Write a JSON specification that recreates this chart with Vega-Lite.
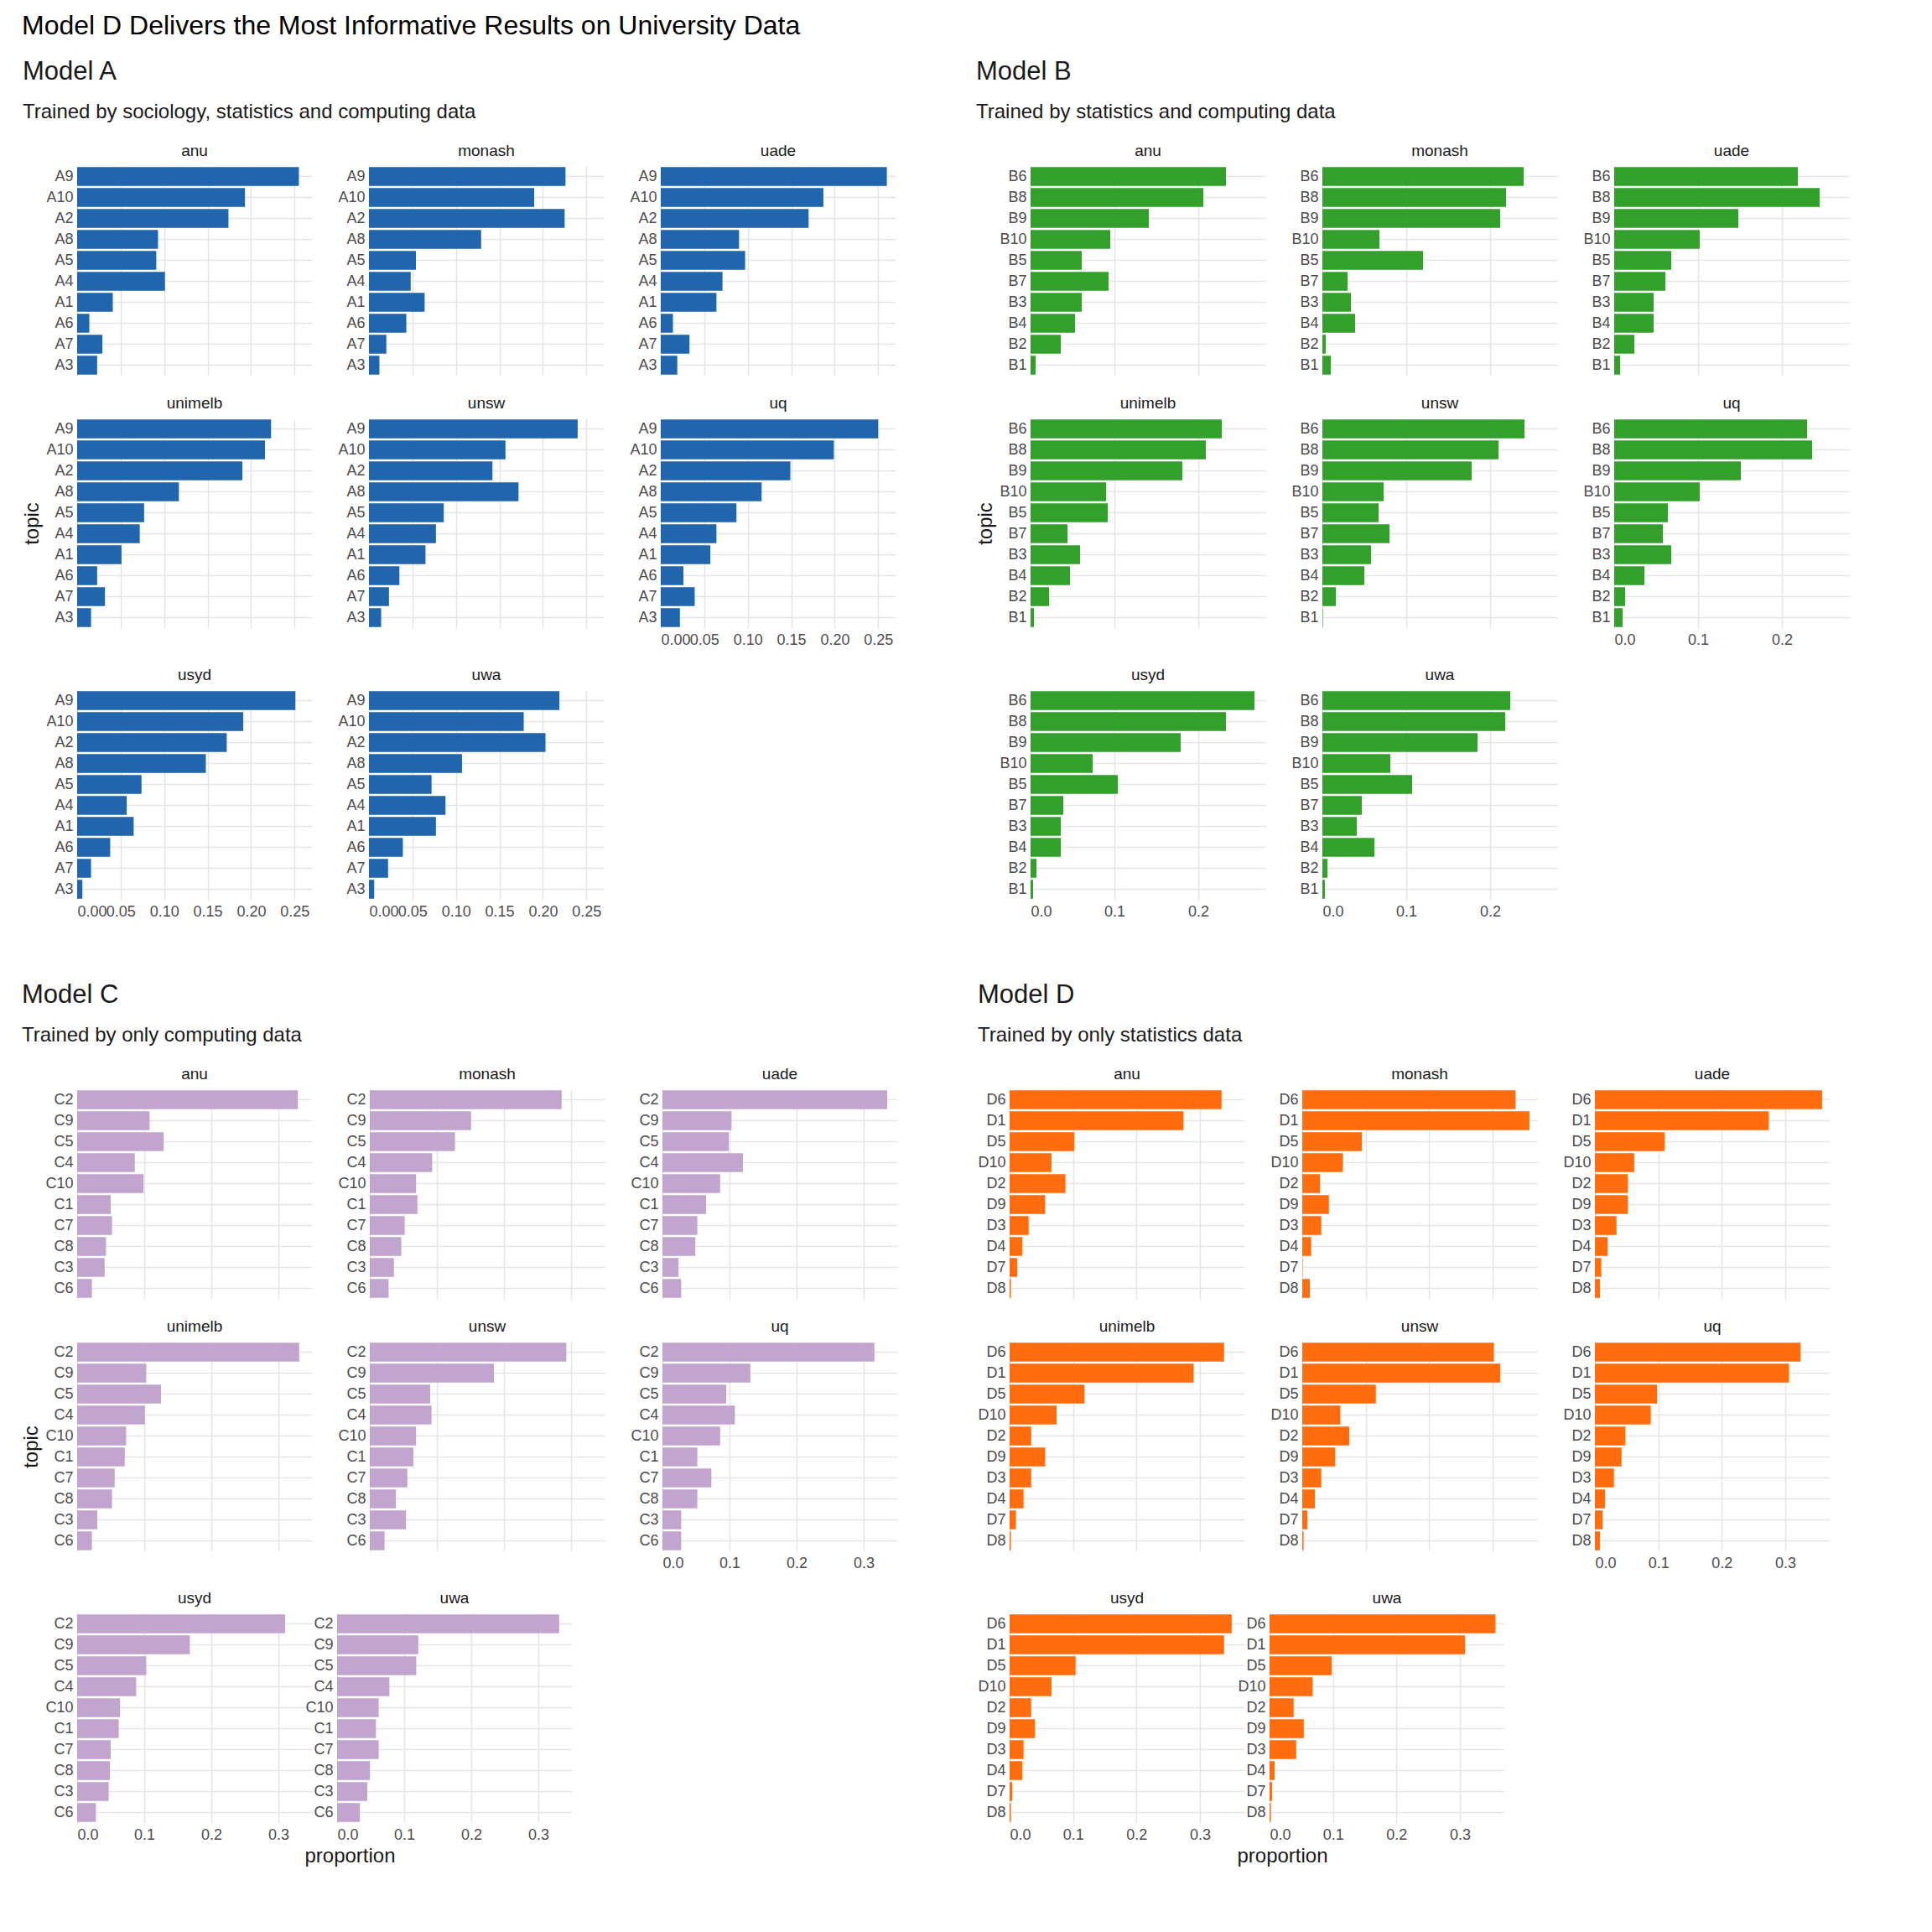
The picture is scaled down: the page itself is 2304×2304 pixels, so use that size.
{
  "$schema": "https://vega.github.io/schema/vega-lite/v6.json",
  "title": {"text": "Model D Delivers the Most Informative Results on University Data", "anchor": "start", "fontSize": 32, "font": "Liberation Sans", "fontWeight": "normal", "offset": 22, "color": "#000000"},
  "background": "white",
  "padding": {"left": 25, "top": 15, "right": 20, "bottom": 10},
  "datasets": {
    "A": [
      {"u":"anu","t":"A9","p":0.255},{"u":"anu","t":"A10","p":0.193},{"u":"anu","t":"A2","p":0.174},{"u":"anu","t":"A8","p":0.093},{"u":"anu","t":"A5","p":0.091},{"u":"anu","t":"A4","p":0.101},{"u":"anu","t":"A1","p":0.041},{"u":"anu","t":"A6","p":0.014},{"u":"anu","t":"A7","p":0.029},{"u":"anu","t":"A3","p":0.023},
      {"u":"monash","t":"A9","p":0.226},{"u":"monash","t":"A10","p":0.19},{"u":"monash","t":"A2","p":0.225},{"u":"monash","t":"A8","p":0.129},{"u":"monash","t":"A5","p":0.054},{"u":"monash","t":"A4","p":0.048},{"u":"monash","t":"A1","p":0.064},{"u":"monash","t":"A6","p":0.043},{"u":"monash","t":"A7","p":0.02},{"u":"monash","t":"A3","p":0.012},
      {"u":"uade","t":"A9","p":0.26},{"u":"uade","t":"A10","p":0.187},{"u":"uade","t":"A2","p":0.17},{"u":"uade","t":"A8","p":0.09},{"u":"uade","t":"A5","p":0.097},{"u":"uade","t":"A4","p":0.071},{"u":"uade","t":"A1","p":0.064},{"u":"uade","t":"A6","p":0.014},{"u":"uade","t":"A7","p":0.033},{"u":"uade","t":"A3","p":0.019},
      {"u":"unimelb","t":"A9","p":0.223},{"u":"unimelb","t":"A10","p":0.216},{"u":"unimelb","t":"A2","p":0.19},{"u":"unimelb","t":"A8","p":0.117},{"u":"unimelb","t":"A5","p":0.077},{"u":"unimelb","t":"A4","p":0.072},{"u":"unimelb","t":"A1","p":0.051},{"u":"unimelb","t":"A6","p":0.023},{"u":"unimelb","t":"A7","p":0.032},{"u":"unimelb","t":"A3","p":0.016},
      {"u":"unsw","t":"A9","p":0.24},{"u":"unsw","t":"A10","p":0.157},{"u":"unsw","t":"A2","p":0.142},{"u":"unsw","t":"A8","p":0.172},{"u":"unsw","t":"A5","p":0.086},{"u":"unsw","t":"A4","p":0.077},{"u":"unsw","t":"A1","p":0.065},{"u":"unsw","t":"A6","p":0.035},{"u":"unsw","t":"A7","p":0.023},{"u":"unsw","t":"A3","p":0.014},
      {"u":"uq","t":"A9","p":0.25},{"u":"uq","t":"A10","p":0.199},{"u":"uq","t":"A2","p":0.149},{"u":"uq","t":"A8","p":0.116},{"u":"uq","t":"A5","p":0.087},{"u":"uq","t":"A4","p":0.064},{"u":"uq","t":"A1","p":0.057},{"u":"uq","t":"A6","p":0.026},{"u":"uq","t":"A7","p":0.039},{"u":"uq","t":"A3","p":0.022},
      {"u":"usyd","t":"A9","p":0.251},{"u":"usyd","t":"A10","p":0.191},{"u":"usyd","t":"A2","p":0.172},{"u":"usyd","t":"A8","p":0.148},{"u":"usyd","t":"A5","p":0.074},{"u":"usyd","t":"A4","p":0.057},{"u":"usyd","t":"A1","p":0.065},{"u":"usyd","t":"A6","p":0.038},{"u":"usyd","t":"A7","p":0.016},{"u":"usyd","t":"A3","p":0.006},
      {"u":"uwa","t":"A9","p":0.219},{"u":"uwa","t":"A10","p":0.178},{"u":"uwa","t":"A2","p":0.203},{"u":"uwa","t":"A8","p":0.107},{"u":"uwa","t":"A5","p":0.072},{"u":"uwa","t":"A4","p":0.088},{"u":"uwa","t":"A1","p":0.077},{"u":"uwa","t":"A6","p":0.039},{"u":"uwa","t":"A7","p":0.022},{"u":"uwa","t":"A3","p":0.006}
    ],
    "B": [
      {"u":"anu","t":"B6","p":0.233},{"u":"anu","t":"B8","p":0.206},{"u":"anu","t":"B9","p":0.141},{"u":"anu","t":"B10","p":0.095},{"u":"anu","t":"B5","p":0.061},{"u":"anu","t":"B7","p":0.093},{"u":"anu","t":"B3","p":0.061},{"u":"anu","t":"B4","p":0.053},{"u":"anu","t":"B2","p":0.036},{"u":"anu","t":"B1","p":0.006},
      {"u":"monash","t":"B6","p":0.24},{"u":"monash","t":"B8","p":0.219},{"u":"monash","t":"B9","p":0.212},{"u":"monash","t":"B10","p":0.068},{"u":"monash","t":"B5","p":0.12},{"u":"monash","t":"B7","p":0.03},{"u":"monash","t":"B3","p":0.034},{"u":"monash","t":"B4","p":0.039},{"u":"monash","t":"B2","p":0.004},{"u":"monash","t":"B1","p":0.01},
      {"u":"uade","t":"B6","p":0.219},{"u":"uade","t":"B8","p":0.245},{"u":"uade","t":"B9","p":0.148},{"u":"uade","t":"B10","p":0.102},{"u":"uade","t":"B5","p":0.068},{"u":"uade","t":"B7","p":0.061},{"u":"uade","t":"B3","p":0.047},{"u":"uade","t":"B4","p":0.047},{"u":"uade","t":"B2","p":0.024},{"u":"uade","t":"B1","p":0.007},
      {"u":"unimelb","t":"B6","p":0.228},{"u":"unimelb","t":"B8","p":0.209},{"u":"unimelb","t":"B9","p":0.181},{"u":"unimelb","t":"B10","p":0.09},{"u":"unimelb","t":"B5","p":0.092},{"u":"unimelb","t":"B7","p":0.044},{"u":"unimelb","t":"B3","p":0.059},{"u":"unimelb","t":"B4","p":0.047},{"u":"unimelb","t":"B2","p":0.022},{"u":"unimelb","t":"B1","p":0.004},
      {"u":"unsw","t":"B6","p":0.241},{"u":"unsw","t":"B8","p":0.21},{"u":"unsw","t":"B9","p":0.178},{"u":"unsw","t":"B10","p":0.073},{"u":"unsw","t":"B5","p":0.067},{"u":"unsw","t":"B7","p":0.08},{"u":"unsw","t":"B3","p":0.058},{"u":"unsw","t":"B4","p":0.05},{"u":"unsw","t":"B2","p":0.016},{"u":"unsw","t":"B1","p":0.0005},
      {"u":"uq","t":"B6","p":0.23},{"u":"uq","t":"B8","p":0.236},{"u":"uq","t":"B9","p":0.151},{"u":"uq","t":"B10","p":0.102},{"u":"uq","t":"B5","p":0.064},{"u":"uq","t":"B7","p":0.058},{"u":"uq","t":"B3","p":0.068},{"u":"uq","t":"B4","p":0.036},{"u":"uq","t":"B2","p":0.013},{"u":"uq","t":"B1","p":0.01},
      {"u":"usyd","t":"B6","p":0.267},{"u":"usyd","t":"B8","p":0.233},{"u":"usyd","t":"B9","p":0.179},{"u":"usyd","t":"B10","p":0.074},{"u":"usyd","t":"B5","p":0.104},{"u":"usyd","t":"B7","p":0.039},{"u":"usyd","t":"B3","p":0.036},{"u":"usyd","t":"B4","p":0.036},{"u":"usyd","t":"B2","p":0.007},{"u":"usyd","t":"B1","p":0.003},
      {"u":"uwa","t":"B6","p":0.224},{"u":"uwa","t":"B8","p":0.218},{"u":"uwa","t":"B9","p":0.185},{"u":"uwa","t":"B10","p":0.081},{"u":"uwa","t":"B5","p":0.107},{"u":"uwa","t":"B7","p":0.047},{"u":"uwa","t":"B3","p":0.041},{"u":"uwa","t":"B4","p":0.062},{"u":"uwa","t":"B2","p":0.006},{"u":"uwa","t":"B1","p":0.003}
    ],
    "C": [
      {"u":"anu","t":"C2","p":0.329},{"u":"anu","t":"C9","p":0.108},{"u":"anu","t":"C5","p":0.129},{"u":"anu","t":"C4","p":0.086},{"u":"anu","t":"C10","p":0.099},{"u":"anu","t":"C1","p":0.05},{"u":"anu","t":"C7","p":0.052},{"u":"anu","t":"C8","p":0.043},{"u":"anu","t":"C3","p":0.041},{"u":"anu","t":"C6","p":0.022},
      {"u":"monash","t":"C2","p":0.286},{"u":"monash","t":"C9","p":0.151},{"u":"monash","t":"C5","p":0.127},{"u":"monash","t":"C4","p":0.093},{"u":"monash","t":"C10","p":0.069},{"u":"monash","t":"C1","p":0.071},{"u":"monash","t":"C7","p":0.052},{"u":"monash","t":"C8","p":0.047},{"u":"monash","t":"C3","p":0.036},{"u":"monash","t":"C6","p":0.028},
      {"u":"uade","t":"C2","p":0.335},{"u":"uade","t":"C9","p":0.103},{"u":"uade","t":"C5","p":0.099},{"u":"uade","t":"C4","p":0.12},{"u":"uade","t":"C10","p":0.086},{"u":"uade","t":"C1","p":0.065},{"u":"uade","t":"C7","p":0.052},{"u":"uade","t":"C8","p":0.049},{"u":"uade","t":"C3","p":0.024},{"u":"uade","t":"C6","p":0.028},
      {"u":"unimelb","t":"C2","p":0.331},{"u":"unimelb","t":"C9","p":0.103},{"u":"unimelb","t":"C5","p":0.125},{"u":"unimelb","t":"C4","p":0.101},{"u":"unimelb","t":"C10","p":0.073},{"u":"unimelb","t":"C1","p":0.071},{"u":"unimelb","t":"C7","p":0.056},{"u":"unimelb","t":"C8","p":0.052},{"u":"unimelb","t":"C3","p":0.03},{"u":"unimelb","t":"C6","p":0.022},
      {"u":"unsw","t":"C2","p":0.293},{"u":"unsw","t":"C9","p":0.185},{"u":"unsw","t":"C5","p":0.09},{"u":"unsw","t":"C4","p":0.092},{"u":"unsw","t":"C10","p":0.069},{"u":"unsw","t":"C1","p":0.065},{"u":"unsw","t":"C7","p":0.056},{"u":"unsw","t":"C8","p":0.039},{"u":"unsw","t":"C3","p":0.054},{"u":"unsw","t":"C6","p":0.022},
      {"u":"uq","t":"C2","p":0.316},{"u":"uq","t":"C9","p":0.131},{"u":"uq","t":"C5","p":0.095},{"u":"uq","t":"C4","p":0.108},{"u":"uq","t":"C10","p":0.086},{"u":"uq","t":"C1","p":0.052},{"u":"uq","t":"C7","p":0.073},{"u":"uq","t":"C8","p":0.052},{"u":"uq","t":"C3","p":0.028},{"u":"uq","t":"C6","p":0.028},
      {"u":"usyd","t":"C2","p":0.31},{"u":"usyd","t":"C9","p":0.168},{"u":"usyd","t":"C5","p":0.103},{"u":"usyd","t":"C4","p":0.088},{"u":"usyd","t":"C10","p":0.064},{"u":"usyd","t":"C1","p":0.062},{"u":"usyd","t":"C7","p":0.05},{"u":"usyd","t":"C8","p":0.049},{"u":"usyd","t":"C3","p":0.047},{"u":"usyd","t":"C6","p":0.028},
      {"u":"uwa","t":"C2","p":0.331},{"u":"uwa","t":"C9","p":0.121},{"u":"uwa","t":"C5","p":0.118},{"u":"uwa","t":"C4","p":0.078},{"u":"uwa","t":"C10","p":0.062},{"u":"uwa","t":"C1","p":0.058},{"u":"uwa","t":"C7","p":0.062},{"u":"uwa","t":"C8","p":0.049},{"u":"uwa","t":"C3","p":0.045},{"u":"uwa","t":"C6","p":0.034}
    ],
    "D": [
      {"u":"anu","t":"D6","p":0.334},{"u":"anu","t":"D1","p":0.274},{"u":"anu","t":"D5","p":0.102},{"u":"anu","t":"D10","p":0.066},{"u":"anu","t":"D2","p":0.088},{"u":"anu","t":"D9","p":0.056},{"u":"anu","t":"D3","p":0.03},{"u":"anu","t":"D4","p":0.02},{"u":"anu","t":"D7","p":0.012},{"u":"anu","t":"D8","p":0.002},
      {"u":"monash","t":"D6","p":0.336},{"u":"monash","t":"D1","p":0.358},{"u":"monash","t":"D5","p":0.094},{"u":"monash","t":"D10","p":0.064},{"u":"monash","t":"D2","p":0.028},{"u":"monash","t":"D9","p":0.042},{"u":"monash","t":"D3","p":0.03},{"u":"monash","t":"D4","p":0.014},{"u":"monash","t":"D7","p":0.0005},{"u":"monash","t":"D8","p":0.012},
      {"u":"uade","t":"D6","p":0.358},{"u":"uade","t":"D1","p":0.274},{"u":"uade","t":"D5","p":0.11},{"u":"uade","t":"D10","p":0.062},{"u":"uade","t":"D2","p":0.052},{"u":"uade","t":"D9","p":0.052},{"u":"uade","t":"D3","p":0.034},{"u":"uade","t":"D4","p":0.02},{"u":"uade","t":"D7","p":0.01},{"u":"uade","t":"D8","p":0.008},
      {"u":"unimelb","t":"D6","p":0.338},{"u":"unimelb","t":"D1","p":0.29},{"u":"unimelb","t":"D5","p":0.118},{"u":"unimelb","t":"D10","p":0.074},{"u":"unimelb","t":"D2","p":0.034},{"u":"unimelb","t":"D9","p":0.056},{"u":"unimelb","t":"D3","p":0.034},{"u":"unimelb","t":"D4","p":0.022},{"u":"unimelb","t":"D7","p":0.01},{"u":"unimelb","t":"D8","p":0.002},
      {"u":"unsw","t":"D6","p":0.302},{"u":"unsw","t":"D1","p":0.312},{"u":"unsw","t":"D5","p":0.116},{"u":"unsw","t":"D10","p":0.06},{"u":"unsw","t":"D2","p":0.074},{"u":"unsw","t":"D9","p":0.052},{"u":"unsw","t":"D3","p":0.03},{"u":"unsw","t":"D4","p":0.02},{"u":"unsw","t":"D7","p":0.008},{"u":"unsw","t":"D8","p":0.002},
      {"u":"uq","t":"D6","p":0.324},{"u":"uq","t":"D1","p":0.306},{"u":"uq","t":"D5","p":0.098},{"u":"uq","t":"D10","p":0.088},{"u":"uq","t":"D2","p":0.048},{"u":"uq","t":"D9","p":0.042},{"u":"uq","t":"D3","p":0.03},{"u":"uq","t":"D4","p":0.016},{"u":"uq","t":"D7","p":0.012},{"u":"uq","t":"D8","p":0.008},
      {"u":"usyd","t":"D6","p":0.35},{"u":"usyd","t":"D1","p":0.338},{"u":"usyd","t":"D5","p":0.104},{"u":"usyd","t":"D10","p":0.066},{"u":"usyd","t":"D2","p":0.034},{"u":"usyd","t":"D9","p":0.04},{"u":"usyd","t":"D3","p":0.022},{"u":"usyd","t":"D4","p":0.02},{"u":"usyd","t":"D7","p":0.004},{"u":"usyd","t":"D8","p":0.002},
      {"u":"uwa","t":"D6","p":0.356},{"u":"uwa","t":"D1","p":0.308},{"u":"uwa","t":"D5","p":0.098},{"u":"uwa","t":"D10","p":0.068},{"u":"uwa","t":"D2","p":0.038},{"u":"uwa","t":"D9","p":0.054},{"u":"uwa","t":"D3","p":0.042},{"u":"uwa","t":"D4","p":0.008},{"u":"uwa","t":"D7","p":0.004},{"u":"uwa","t":"D8","p":0.002}
    ]
  },
  "spacing": 75,
  "vconcat": [
    {
      "spacing": 95,
      "hconcat": [
        {
          "title": {"text": "Model A", "subtitle": "Trained by sociology, statistics and computing data", "anchor": "start", "fontSize": 31, "offset": 24},
          "spacing": 24,
          "vconcat": [
            {"spacing": 30, "hconcat": [
              {"title": "anu", "width": 280, "height": 250, "data": {"name": "A"}, "transform": [{"filter": "datum.u=='anu'"}], "mark": {"type": "bar", "color": "#2166ac"}, "encoding": {"y": {"field": "t", "type": "nominal", "sort": null, "axis": {"title": null}}, "x": {"field": "p", "type": "quantitative", "scale": {"domain": [0, 0.27]}, "axis": {"title": null, "labels": false, "values": [0, 0.05, 0.1, 0.15, 0.2, 0.25]}}}},
              {"title": "monash", "width": 280, "height": 250, "data": {"name": "A"}, "transform": [{"filter": "datum.u=='monash'"}], "mark": {"type": "bar", "color": "#2166ac"}, "encoding": {"y": {"field": "t", "type": "nominal", "sort": null, "axis": {"title": null}}, "x": {"field": "p", "type": "quantitative", "scale": {"domain": [0, 0.27]}, "axis": {"title": null, "labels": false, "values": [0, 0.05, 0.1, 0.15, 0.2, 0.25]}}}},
              {"title": "uade", "width": 280, "height": 250, "data": {"name": "A"}, "transform": [{"filter": "datum.u=='uade'"}], "mark": {"type": "bar", "color": "#2166ac"}, "encoding": {"y": {"field": "t", "type": "nominal", "sort": null, "axis": {"title": null}}, "x": {"field": "p", "type": "quantitative", "scale": {"domain": [0, 0.27]}, "axis": {"title": null, "labels": false, "values": [0, 0.05, 0.1, 0.15, 0.2, 0.25]}}}}
            ]},
            {"spacing": 30, "hconcat": [
              {"title": "unimelb", "width": 280, "height": 250, "data": {"name": "A"}, "transform": [{"filter": "datum.u=='unimelb'"}], "mark": {"type": "bar", "color": "#2166ac"}, "encoding": {"y": {"field": "t", "type": "nominal", "sort": null, "axis": {"title": "topic"}}, "x": {"field": "p", "type": "quantitative", "scale": {"domain": [0, 0.27]}, "axis": {"title": null, "labels": false, "values": [0, 0.05, 0.1, 0.15, 0.2, 0.25]}}}},
              {"title": "unsw", "width": 280, "height": 250, "data": {"name": "A"}, "transform": [{"filter": "datum.u=='unsw'"}], "mark": {"type": "bar", "color": "#2166ac"}, "encoding": {"y": {"field": "t", "type": "nominal", "sort": null, "axis": {"title": null}}, "x": {"field": "p", "type": "quantitative", "scale": {"domain": [0, 0.27]}, "axis": {"title": null, "labels": false, "values": [0, 0.05, 0.1, 0.15, 0.2, 0.25]}}}},
              {"title": "uq", "width": 280, "height": 250, "data": {"name": "A"}, "transform": [{"filter": "datum.u=='uq'"}], "mark": {"type": "bar", "color": "#2166ac"}, "encoding": {"y": {"field": "t", "type": "nominal", "sort": null, "axis": {"title": null}}, "x": {"field": "p", "type": "quantitative", "scale": {"domain": [0, 0.27]}, "axis": {"title": null, "format": ".2f", "labelOverlap": false, "values": [0, 0.05, 0.1, 0.15, 0.2, 0.25]}}}}
            ]},
            {"spacing": 30, "hconcat": [
              {"title": "usyd", "width": 280, "height": 250, "data": {"name": "A"}, "transform": [{"filter": "datum.u=='usyd'"}], "mark": {"type": "bar", "color": "#2166ac"}, "encoding": {"y": {"field": "t", "type": "nominal", "sort": null, "axis": {"title": null}}, "x": {"field": "p", "type": "quantitative", "scale": {"domain": [0, 0.27]}, "axis": {"title": null, "format": ".2f", "labelOverlap": false, "values": [0, 0.05, 0.1, 0.15, 0.2, 0.25]}}}},
              {"title": "uwa", "width": 280, "height": 250, "data": {"name": "A"}, "transform": [{"filter": "datum.u=='uwa'"}], "mark": {"type": "bar", "color": "#2166ac"}, "encoding": {"y": {"field": "t", "type": "nominal", "sort": null, "axis": {"title": null}}, "x": {"field": "p", "type": "quantitative", "scale": {"domain": [0, 0.27]}, "axis": {"title": null, "format": ".2f", "labelOverlap": false, "values": [0, 0.05, 0.1, 0.15, 0.2, 0.25]}}}}
            ]}
          ]
        },
        {
          "title": {"text": "Model B", "subtitle": "Trained by statistics and computing data", "anchor": "start", "fontSize": 31, "offset": 24},
          "spacing": 24,
          "vconcat": [
            {"spacing": 30, "hconcat": [
              {"title": "anu", "width": 280, "height": 250, "data": {"name": "B"}, "transform": [{"filter": "datum.u=='anu'"}], "mark": {"type": "bar", "color": "#33a02c"}, "encoding": {"y": {"field": "t", "type": "nominal", "sort": null, "axis": {"title": null}}, "x": {"field": "p", "type": "quantitative", "scale": {"domain": [0, 0.28]}, "axis": {"title": null, "labels": false, "values": [0, 0.1, 0.2]}}}},
              {"title": "monash", "width": 280, "height": 250, "data": {"name": "B"}, "transform": [{"filter": "datum.u=='monash'"}], "mark": {"type": "bar", "color": "#33a02c"}, "encoding": {"y": {"field": "t", "type": "nominal", "sort": null, "axis": {"title": null}}, "x": {"field": "p", "type": "quantitative", "scale": {"domain": [0, 0.28]}, "axis": {"title": null, "labels": false, "values": [0, 0.1, 0.2]}}}},
              {"title": "uade", "width": 280, "height": 250, "data": {"name": "B"}, "transform": [{"filter": "datum.u=='uade'"}], "mark": {"type": "bar", "color": "#33a02c"}, "encoding": {"y": {"field": "t", "type": "nominal", "sort": null, "axis": {"title": null}}, "x": {"field": "p", "type": "quantitative", "scale": {"domain": [0, 0.28]}, "axis": {"title": null, "labels": false, "values": [0, 0.1, 0.2]}}}}
            ]},
            {"spacing": 30, "hconcat": [
              {"title": "unimelb", "width": 280, "height": 250, "data": {"name": "B"}, "transform": [{"filter": "datum.u=='unimelb'"}], "mark": {"type": "bar", "color": "#33a02c"}, "encoding": {"y": {"field": "t", "type": "nominal", "sort": null, "axis": {"title": "topic"}}, "x": {"field": "p", "type": "quantitative", "scale": {"domain": [0, 0.28]}, "axis": {"title": null, "labels": false, "values": [0, 0.1, 0.2]}}}},
              {"title": "unsw", "width": 280, "height": 250, "data": {"name": "B"}, "transform": [{"filter": "datum.u=='unsw'"}], "mark": {"type": "bar", "color": "#33a02c"}, "encoding": {"y": {"field": "t", "type": "nominal", "sort": null, "axis": {"title": null}}, "x": {"field": "p", "type": "quantitative", "scale": {"domain": [0, 0.28]}, "axis": {"title": null, "labels": false, "values": [0, 0.1, 0.2]}}}},
              {"title": "uq", "width": 280, "height": 250, "data": {"name": "B"}, "transform": [{"filter": "datum.u=='uq'"}], "mark": {"type": "bar", "color": "#33a02c"}, "encoding": {"y": {"field": "t", "type": "nominal", "sort": null, "axis": {"title": null}}, "x": {"field": "p", "type": "quantitative", "scale": {"domain": [0, 0.28]}, "axis": {"title": null, "format": ".1f", "values": [0, 0.1, 0.2]}}}}
            ]},
            {"spacing": 30, "hconcat": [
              {"title": "usyd", "width": 280, "height": 250, "data": {"name": "B"}, "transform": [{"filter": "datum.u=='usyd'"}], "mark": {"type": "bar", "color": "#33a02c"}, "encoding": {"y": {"field": "t", "type": "nominal", "sort": null, "axis": {"title": null}}, "x": {"field": "p", "type": "quantitative", "scale": {"domain": [0, 0.28]}, "axis": {"title": null, "format": ".1f", "values": [0, 0.1, 0.2]}}}},
              {"title": "uwa", "width": 280, "height": 250, "data": {"name": "B"}, "transform": [{"filter": "datum.u=='uwa'"}], "mark": {"type": "bar", "color": "#33a02c"}, "encoding": {"y": {"field": "t", "type": "nominal", "sort": null, "axis": {"title": null}}, "x": {"field": "p", "type": "quantitative", "scale": {"domain": [0, 0.28]}, "axis": {"title": null, "format": ".1f", "values": [0, 0.1, 0.2]}}}}
            ]}
          ]
        }
      ]
    },
    {
      "spacing": 95,
      "hconcat": [
        {
          "title": {"text": "Model C", "subtitle": "Trained by only computing data", "anchor": "start", "fontSize": 31, "offset": 24},
          "spacing": 24,
          "vconcat": [
            {"spacing": 30, "hconcat": [
              {"title": "anu", "width": 280, "height": 250, "data": {"name": "C"}, "transform": [{"filter": "datum.u=='anu'"}], "mark": {"type": "bar", "color": "#c2a5cf"}, "encoding": {"y": {"field": "t", "type": "nominal", "sort": null, "axis": {"title": null}}, "x": {"field": "p", "type": "quantitative", "scale": {"domain": [0, 0.35]}, "axis": {"title": null, "labels": false, "values": [0, 0.1, 0.2, 0.3]}}}},
              {"title": "monash", "width": 280, "height": 250, "data": {"name": "C"}, "transform": [{"filter": "datum.u=='monash'"}], "mark": {"type": "bar", "color": "#c2a5cf"}, "encoding": {"y": {"field": "t", "type": "nominal", "sort": null, "axis": {"title": null}}, "x": {"field": "p", "type": "quantitative", "scale": {"domain": [0, 0.35]}, "axis": {"title": null, "labels": false, "values": [0, 0.1, 0.2, 0.3]}}}},
              {"title": "uade", "width": 280, "height": 250, "data": {"name": "C"}, "transform": [{"filter": "datum.u=='uade'"}], "mark": {"type": "bar", "color": "#c2a5cf"}, "encoding": {"y": {"field": "t", "type": "nominal", "sort": null, "axis": {"title": null}}, "x": {"field": "p", "type": "quantitative", "scale": {"domain": [0, 0.35]}, "axis": {"title": null, "labels": false, "values": [0, 0.1, 0.2, 0.3]}}}}
            ]},
            {"spacing": 30, "hconcat": [
              {"title": "unimelb", "width": 280, "height": 250, "data": {"name": "C"}, "transform": [{"filter": "datum.u=='unimelb'"}], "mark": {"type": "bar", "color": "#c2a5cf"}, "encoding": {"y": {"field": "t", "type": "nominal", "sort": null, "axis": {"title": "topic"}}, "x": {"field": "p", "type": "quantitative", "scale": {"domain": [0, 0.35]}, "axis": {"title": null, "labels": false, "values": [0, 0.1, 0.2, 0.3]}}}},
              {"title": "unsw", "width": 280, "height": 250, "data": {"name": "C"}, "transform": [{"filter": "datum.u=='unsw'"}], "mark": {"type": "bar", "color": "#c2a5cf"}, "encoding": {"y": {"field": "t", "type": "nominal", "sort": null, "axis": {"title": null}}, "x": {"field": "p", "type": "quantitative", "scale": {"domain": [0, 0.35]}, "axis": {"title": null, "labels": false, "values": [0, 0.1, 0.2, 0.3]}}}},
              {"title": "uq", "width": 280, "height": 250, "data": {"name": "C"}, "transform": [{"filter": "datum.u=='uq'"}], "mark": {"type": "bar", "color": "#c2a5cf"}, "encoding": {"y": {"field": "t", "type": "nominal", "sort": null, "axis": {"title": null}}, "x": {"field": "p", "type": "quantitative", "scale": {"domain": [0, 0.35]}, "axis": {"title": null, "format": ".1f", "values": [0, 0.1, 0.2, 0.3]}}}}
            ]},
            {"spacing": 30, "bounds": "flush", "hconcat": [
              {"title": "usyd", "width": 280, "height": 250, "data": {"name": "C"}, "transform": [{"filter": "datum.u=='usyd'"}], "mark": {"type": "bar", "color": "#c2a5cf"}, "encoding": {"y": {"field": "t", "type": "nominal", "sort": null, "axis": {"title": null}}, "x": {"field": "p", "type": "quantitative", "scale": {"domain": [0, 0.35]}, "axis": {"title": "proportion", "titleX": 325, "format": ".1f", "values": [0, 0.1, 0.2, 0.3]}}}},
              {"title": "uwa", "width": 280, "height": 250, "data": {"name": "C"}, "transform": [{"filter": "datum.u=='uwa'"}], "mark": {"type": "bar", "color": "#c2a5cf"}, "encoding": {"y": {"field": "t", "type": "nominal", "sort": null, "axis": {"title": null}}, "x": {"field": "p", "type": "quantitative", "scale": {"domain": [0, 0.35]}, "axis": {"title": null, "format": ".1f", "values": [0, 0.1, 0.2, 0.3]}}}}
            ]}
          ]
        },
        {
          "title": {"text": "Model D", "subtitle": "Trained by only statistics data", "anchor": "start", "fontSize": 31, "offset": 24},
          "spacing": 24,
          "vconcat": [
            {"spacing": 30, "hconcat": [
              {"title": "anu", "width": 280, "height": 250, "data": {"name": "D"}, "transform": [{"filter": "datum.u=='anu'"}], "mark": {"type": "bar", "color": "#ff6d0f"}, "encoding": {"y": {"field": "t", "type": "nominal", "sort": null, "axis": {"title": null}}, "x": {"field": "p", "type": "quantitative", "scale": {"domain": [0, 0.37]}, "axis": {"title": null, "labels": false, "values": [0, 0.1, 0.2, 0.3]}}}},
              {"title": "monash", "width": 280, "height": 250, "data": {"name": "D"}, "transform": [{"filter": "datum.u=='monash'"}], "mark": {"type": "bar", "color": "#ff6d0f"}, "encoding": {"y": {"field": "t", "type": "nominal", "sort": null, "axis": {"title": null}}, "x": {"field": "p", "type": "quantitative", "scale": {"domain": [0, 0.37]}, "axis": {"title": null, "labels": false, "values": [0, 0.1, 0.2, 0.3]}}}},
              {"title": "uade", "width": 280, "height": 250, "data": {"name": "D"}, "transform": [{"filter": "datum.u=='uade'"}], "mark": {"type": "bar", "color": "#ff6d0f"}, "encoding": {"y": {"field": "t", "type": "nominal", "sort": null, "axis": {"title": null}}, "x": {"field": "p", "type": "quantitative", "scale": {"domain": [0, 0.37]}, "axis": {"title": null, "labels": false, "values": [0, 0.1, 0.2, 0.3]}}}}
            ]},
            {"spacing": 30, "hconcat": [
              {"title": "unimelb", "width": 280, "height": 250, "data": {"name": "D"}, "transform": [{"filter": "datum.u=='unimelb'"}], "mark": {"type": "bar", "color": "#ff6d0f"}, "encoding": {"y": {"field": "t", "type": "nominal", "sort": null, "axis": {"title": null}}, "x": {"field": "p", "type": "quantitative", "scale": {"domain": [0, 0.37]}, "axis": {"title": null, "labels": false, "values": [0, 0.1, 0.2, 0.3]}}}},
              {"title": "unsw", "width": 280, "height": 250, "data": {"name": "D"}, "transform": [{"filter": "datum.u=='unsw'"}], "mark": {"type": "bar", "color": "#ff6d0f"}, "encoding": {"y": {"field": "t", "type": "nominal", "sort": null, "axis": {"title": null}}, "x": {"field": "p", "type": "quantitative", "scale": {"domain": [0, 0.37]}, "axis": {"title": null, "labels": false, "values": [0, 0.1, 0.2, 0.3]}}}},
              {"title": "uq", "width": 280, "height": 250, "data": {"name": "D"}, "transform": [{"filter": "datum.u=='uq'"}], "mark": {"type": "bar", "color": "#ff6d0f"}, "encoding": {"y": {"field": "t", "type": "nominal", "sort": null, "axis": {"title": null}}, "x": {"field": "p", "type": "quantitative", "scale": {"domain": [0, 0.37]}, "axis": {"title": null, "format": ".1f", "values": [0, 0.1, 0.2, 0.3]}}}}
            ]},
            {"spacing": 30, "bounds": "flush", "hconcat": [
              {"title": "usyd", "width": 280, "height": 250, "data": {"name": "D"}, "transform": [{"filter": "datum.u=='usyd'"}], "mark": {"type": "bar", "color": "#ff6d0f"}, "encoding": {"y": {"field": "t", "type": "nominal", "sort": null, "axis": {"title": null}}, "x": {"field": "p", "type": "quantitative", "scale": {"domain": [0, 0.37]}, "axis": {"title": "proportion", "titleX": 325, "format": ".1f", "values": [0, 0.1, 0.2, 0.3]}}}},
              {"title": "uwa", "width": 280, "height": 250, "data": {"name": "D"}, "transform": [{"filter": "datum.u=='uwa'"}], "mark": {"type": "bar", "color": "#ff6d0f"}, "encoding": {"y": {"field": "t", "type": "nominal", "sort": null, "axis": {"title": null}}, "x": {"field": "p", "type": "quantitative", "scale": {"domain": [0, 0.37]}, "axis": {"title": null, "format": ".1f", "values": [0, 0.1, 0.2, 0.3]}}}}
            ]}
          ]
        }
      ]
    }
  ],
  "config": {
    "font": "Liberation Sans",
    "view": {"stroke": null},
    "scale": {"bandPaddingInner": 0.1},
    "title": {"anchor": "middle", "fontSize": 19, "fontWeight": "normal", "color": "#1a1a1a", "offset": 8, "subtitleFontSize": 24, "subtitleColor": "#1a1a1a", "subtitlePadding": 20},
    "concat": {"spacing": 30},
    "axis": {"domain": false, "ticks": false, "gridColor": "#e5e5e5", "gridWidth": 1.5, "labelFontSize": 18, "labelColor": "#4d4d4d", "titleFontSize": 24, "titleFontWeight": "normal", "titleColor": "#1a1a1a", "labelPadding": 5},
    "axisY": {"grid": true, "bandPosition": 0.5},
    "axisX": {"grid": true}
  }
}
